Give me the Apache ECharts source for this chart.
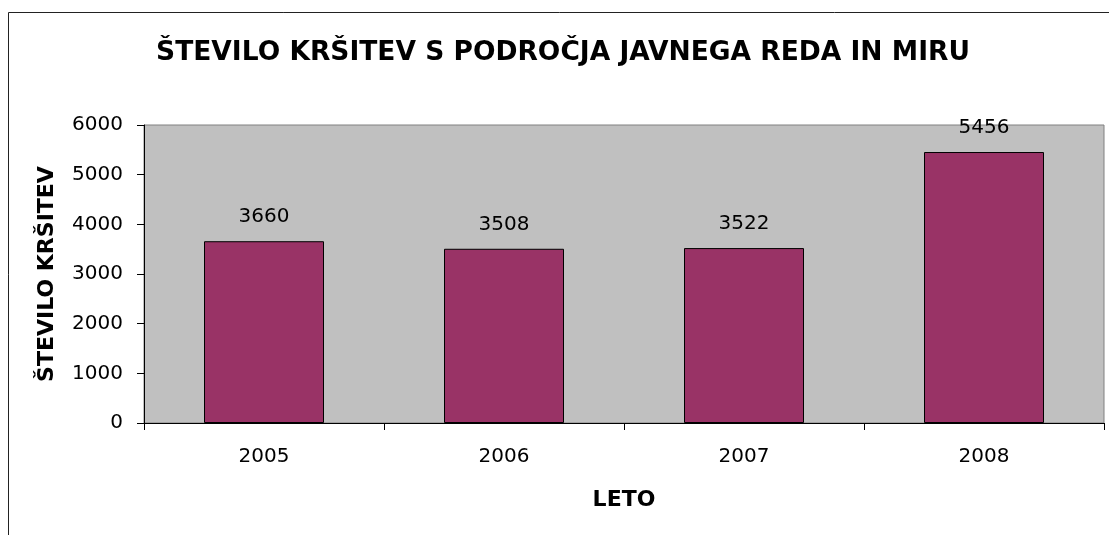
<!DOCTYPE html>
<html>
<head>
<meta charset="utf-8">
<script src="https://cdn.jsdelivr.net/npm/echarts@6/dist/echarts.min.js"></script>
<style>
  html, body { margin: 0; padding: 0; background: #fff; }
  #chart { width: 1109px; height: 535px; }
</style>
</head>
<body>
<div id="chart"></div>
<script>
// podatki
var years = ['2005', '2006', '2007', '2008'];
var krsitve = [3660, 3508, 3522, 5456];
var yTicks = [0, 1000, 2000, 3000, 4000, 5000, 6000];

// sirsa pisava, ker je original raztegnjen v sirino
var font = '"DejaVu Sans", Arial, sans-serif';
var chart = echarts.init(document.getElementById('chart'));

var option = {
    animation: false,
    title: {
        text: 'ŠTEVILO KRŠITEV S PODROČJA JAVNEGA REDA IN MIRU',
        left: 558,
        top: 35,
        textAlign: 'center',
        textStyle: { fontFamily: font, fontSize: 26.5, fontWeight: 'bold', color: '#000' }
    },
    // okvir grafa, sega cez rob slike
    graphic: [{
        type: 'rect',
        shape: { x: 8.5, y: 12.5, width: 1200, height: 600 },
        style: { fill: 'none', stroke: '#222', lineWidth: 1 },
        z: -1
    }],
    grid: {
        left: 144,
        top: 125,
        right: 5,
        bottom: 112,
        show: true,
        backgroundColor: '#C0C0C0',
        borderColor: '#808080',
        borderWidth: 1
    },
    xAxis: {
        type: 'category',
        data: years,
        name: 'LETO',
        nameLocation: 'middle',
        nameGap: 66,
        nameTextStyle: { fontFamily: font, fontSize: 22, fontWeight: 'bold', color: '#000' },
        axisLine: { lineStyle: { color: '#000', width: 1 } },
        axisTick: { show: true, length: 7, lineStyle: { color: '#000' } },
        axisLabel: { margin: 24, fontFamily: font, fontSize: 20, color: '#000' }
    },
    yAxis: {
        type: 'value',
        min: yTicks[0],
        max: yTicks[yTicks.length - 1],
        interval: 1000,
        name: 'ŠTEVILO KRŠITEV',
        nameLocation: 'middle',
        nameGap: 86,
        nameTextStyle: { fontFamily: font, fontSize: 22, fontWeight: 'bold', color: '#000' },
        axisLine: { show: true, lineStyle: { color: '#000', width: 1 } },
        axisTick: { show: true, length: 7, lineStyle: { color: '#000' } },
        splitLine: { show: false },
        axisLabel: {
            margin: 21,
            fontFamily: font,
            fontSize: 20,
            color: '#000',
            formatter: function (v) { return String(v); }
        }
    },
    series: [{
        type: 'bar',
        data: krsitve,
        barWidth: '50%',
        itemStyle: { color: '#993366', borderColor: '#000', borderWidth: 1 },
        label: {
            show: true,
            position: 'top',
            distance: 14,
            fontFamily: font,
            fontSize: 20,
            color: '#000'
        }
    }]
};

chart.setOption(option);
</script>
</body>
</html>
